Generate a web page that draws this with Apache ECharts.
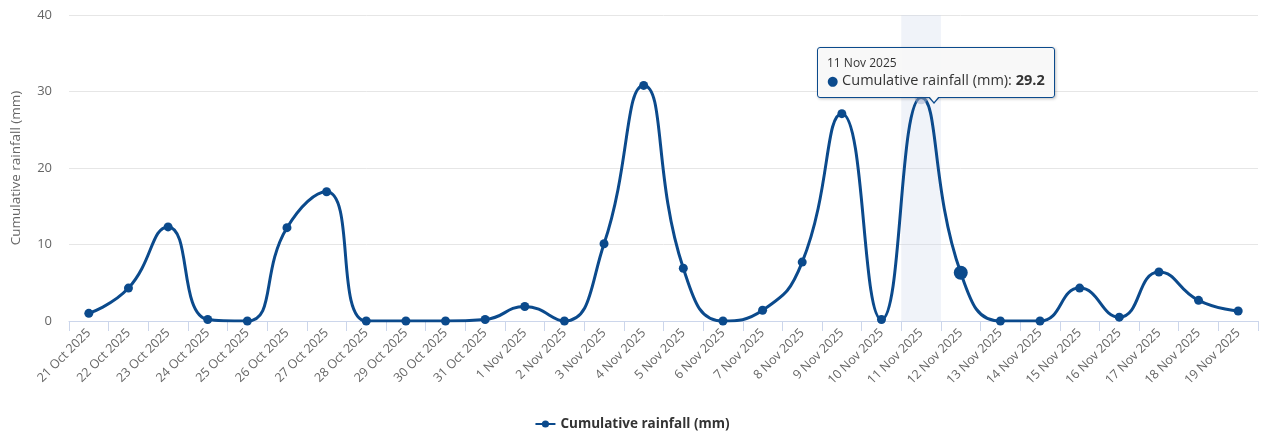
<!DOCTYPE html>
<html>
<head>
<meta charset="utf-8">
<script src="https://cdn.jsdelivr.net/npm/echarts@6/dist/echarts.min.js"></script>
<style>
html,body{margin:0;padding:0;background:#fff;}
#chart{width:1264px;height:438px;}
</style>
</head>
<body>
<div id="chart"></div>
<script>
const categories = ['21 Oct 2025','22 Oct 2025','23 Oct 2025','24 Oct 2025','25 Oct 2025','26 Oct 2025','27 Oct 2025','28 Oct 2025','29 Oct 2025','30 Oct 2025','31 Oct 2025','1 Nov 2025','2 Nov 2025','3 Nov 2025','4 Nov 2025','5 Nov 2025','6 Nov 2025','7 Nov 2025','8 Nov 2025','9 Nov 2025','10 Nov 2025','11 Nov 2025','12 Nov 2025','13 Nov 2025','14 Nov 2025','15 Nov 2025','16 Nov 2025','17 Nov 2025','18 Nov 2025','19 Nov 2025'];
const rainfall = [1.0,4.3,12.3,0.2,0.0,12.2,16.9,0.0,0.0,0.0,0.2,1.9,0.0,10.1,30.8,6.9,0.0,1.4,7.7,27.1,0.2,29.2,6.3,0.0,0.0,4.3,0.5,6.4,2.7,1.3];
const yTicks = [0,10,20,30,40];
const seriesName = 'Cumulative rainfall (mm)';
const tooltipIndex = 21;
const hoverIndex = 22;

const lineColor = '#0b4a8c';
const font = '"Open Sans", "DejaVu Sans", Arial, sans-serif';
const cssFont = font.replace(/"/g, "'");
const chart = echarts.init(document.getElementById('chart'));

const seriesData = rainfall.map((v, i) => {
  if (i === hoverIndex) return {value: v, symbolSize: 14};
  if (i === tooltipIndex) return {value: v, itemStyle: {color: 'rgba(160,175,205,0.55)'}, symbolSize: 12};
  return v;
});

chart.setOption({
  animation: false,
  textStyle: {fontFamily: font},
  grid: {left: 69, right: 6, top: 15, bottom: 117},
  legend: {
    bottom: 2, left: 'center',
    itemWidth: 20, itemHeight: 9,
    textStyle: {fontWeight: 'bold', fontSize: 13.5, color: '#333', fontFamily: font},
    data: [seriesName]
  },
  tooltip: {
    trigger: 'axis',
    triggerOn: 'none',
    alwaysShowContent: true,
    axisPointer: {type: 'shadow', shadowStyle: {color: 'rgba(204,214,235,0.3)'}},
    backgroundColor: 'rgba(247,247,247,0.92)',
    borderColor: lineColor,
    borderWidth: 1,
    padding: [7, 9, 7, 9],
    extraCssText: 'border-radius:3px;box-shadow:1px 1px 3px rgba(0,0,0,0.25);overflow:visible;',
    position: function (point, params, dom, rect, size) {
      const p = chart.convertToPixel({seriesIndex: 0}, [tooltipIndex, rainfall[tooltipIndex]]);
      return [p[0] - 104, p[1] - 51];
    },
    formatter: function (params) {
      const p = params[0];
      return '<div style="font-size:12px;color:#333;line-height:15px;font-family:' + cssFont + '">' + p.name + '</div>' +
        '<div style="font-size:14.5px;color:#333;line-height:20px;font-family:' + cssFont + '">' +
        '<span style="color:' + lineColor + ';font-size:13px">\u25CF</span> ' + p.seriesName + ': <b>' + p.value.toFixed(1) + '</b></div>' +
        '<div style="position:absolute;left:110px;bottom:-7px;width:0;height:0;border-left:6px solid transparent;border-right:6px solid transparent;border-top:7px solid ' + lineColor + ';"></div>' +
        '<div style="position:absolute;left:111px;bottom:-5px;width:0;height:0;border-left:5px solid transparent;border-right:5px solid transparent;border-top:6px solid rgba(247,247,247,1);"></div>';
    }
  },
  xAxis: {
    type: 'category',
    data: categories,
    boundaryGap: true,
    axisLine: {lineStyle: {color: '#ccd6eb'}},
    axisTick: {show: true, alignWithLabel: false, length: 10, lineStyle: {color: '#ccd6eb'}},
    axisLabel: {rotate: 45, interval: 0, color: '#666', fontSize: 12.5, margin: 10, fontFamily: font},
    splitLine: {show: false}
  },
  yAxis: {
    type: 'value',
    min: yTicks[0], max: yTicks[yTicks.length - 1], interval: 10,
    name: seriesName,
    nameLocation: 'middle',
    nameGap: 46,
    nameTextStyle: {color: '#666', fontSize: 13.5, fontFamily: font},
    axisLine: {show: false},
    axisTick: {show: false},
    axisLabel: {color: '#666', fontSize: 13, margin: 17, fontFamily: font},
    splitLine: {lineStyle: {color: '#e6e6e6'}}
  },
  series: [{
    name: seriesName,
    type: 'line',
    smooth: 0.5,
    z: 100,
    data: seriesData,
    symbol: 'circle',
    symbolSize: 9,
    showAllSymbol: true,
    lineStyle: {color: lineColor, width: 3},
    itemStyle: {color: lineColor},
    emphasis: {disabled: true}
  }]
});

chart.dispatchAction({type: 'showTip', seriesIndex: 0, dataIndex: tooltipIndex});
</script>
</body>
</html>
